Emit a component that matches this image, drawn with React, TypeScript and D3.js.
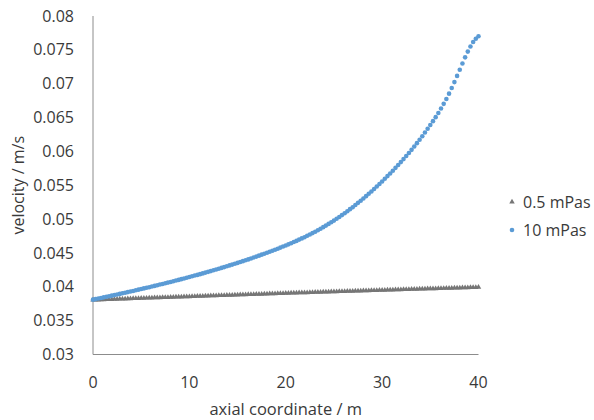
import React from "react";
import * as d3 from "d3";

// axial mesh: 145 nodes spread evenly over the 40 m pipe
const nodeCount = 145;
const axial = d3.range(nodeCount).map((i) => (i * 40) / (nodeCount - 1));

// 0.5 mPas (grey triangles)
const lowVisc = [
  0.03805, 0.03807, 0.03808, 0.03809, 0.03811, 0.03812, 0.03814, 0.03815, 0.03817, 0.03818,
  0.0382, 0.03821, 0.03822, 0.03824, 0.03825, 0.03827, 0.03828, 0.0383, 0.03831, 0.03833,
  0.03834, 0.03835, 0.03837, 0.03838, 0.0384, 0.03841, 0.03842, 0.03844, 0.03845, 0.03847,
  0.03848, 0.0385, 0.03851, 0.03852, 0.03854, 0.03855, 0.03856, 0.03858, 0.03859, 0.03861,
  0.03862, 0.03863, 0.03865, 0.03866, 0.03868, 0.03869, 0.0387, 0.03872, 0.03873, 0.03874,
  0.03876, 0.03877, 0.03878, 0.0388, 0.03881, 0.03883, 0.03884, 0.03885, 0.03887, 0.03888,
  0.03889, 0.03891, 0.03892, 0.03893, 0.03895, 0.03896, 0.03897, 0.03898, 0.039, 0.03901,
  0.03902, 0.03904, 0.03905, 0.03906, 0.03908, 0.03909, 0.0391, 0.03912, 0.03913, 0.03914,
  0.03915, 0.03917, 0.03918, 0.03919, 0.03921, 0.03922, 0.03923, 0.03924, 0.03926, 0.03927,
  0.03928, 0.03929, 0.03931, 0.03932, 0.03933, 0.03934, 0.03936, 0.03937, 0.03938, 0.03939,
  0.03941, 0.03942, 0.03943, 0.03944, 0.03946, 0.03947, 0.03948, 0.03949, 0.0395, 0.03952,
  0.03953, 0.03954, 0.03955, 0.03957, 0.03958, 0.03959, 0.0396, 0.03961, 0.03963, 0.03964,
  0.03965, 0.03966, 0.03967, 0.03969, 0.0397, 0.03971, 0.03972, 0.03973, 0.03974, 0.03976,
  0.03977, 0.03978, 0.03979, 0.0398, 0.03981, 0.03983, 0.03984, 0.03985, 0.03986, 0.03987,
  0.03988, 0.0399, 0.03991, 0.03992, 0.03993,
];

// 10 mPas (blue dots)
const highVisc = [
  0.0381, 0.03818, 0.03827, 0.03835, 0.03844, 0.03852, 0.03861, 0.03869, 0.03878, 0.03887,
  0.03895, 0.03904, 0.03913, 0.03922, 0.03931, 0.03939, 0.03948, 0.03958, 0.03967, 0.03976,
  0.03985, 0.03994, 0.04004, 0.04013, 0.04023, 0.04033, 0.04042, 0.04052, 0.04062, 0.04072,
  0.04082, 0.04092, 0.04102, 0.04113, 0.04123, 0.04134, 0.04144, 0.04155, 0.04166, 0.04176,
  0.04187, 0.04198, 0.0421, 0.04221, 0.04232, 0.04244, 0.04256, 0.04267, 0.04279, 0.04291,
  0.04303, 0.04316, 0.04328, 0.04341, 0.04353, 0.04366, 0.04379, 0.04392, 0.04405, 0.04419,
  0.04433, 0.04446, 0.0446, 0.04475, 0.04489, 0.04503, 0.04518, 0.04533, 0.04548, 0.04563,
  0.04579, 0.04595, 0.04611, 0.04627, 0.04644, 0.04661, 0.04678, 0.04697, 0.04715, 0.04733,
  0.04753, 0.04773, 0.04793, 0.04814, 0.04836, 0.04858, 0.04881, 0.04904, 0.04929, 0.04953,
  0.04978, 0.05005, 0.05032, 0.05059, 0.05087, 0.05117, 0.05147, 0.05176, 0.05208, 0.0524,
  0.05272, 0.05305, 0.05339, 0.05374, 0.05408, 0.05444, 0.05481, 0.05518, 0.05556, 0.05595,
  0.05635, 0.05674, 0.05715, 0.05757, 0.05799, 0.05842, 0.05886, 0.05932, 0.05977, 0.06023,
  0.06072, 0.06122, 0.06171, 0.06224, 0.06279, 0.06334, 0.06389, 0.06447, 0.06506, 0.06568,
  0.06633, 0.06702, 0.06775, 0.06853, 0.06936, 0.07024, 0.07115, 0.07207, 0.07299, 0.07389,
  0.07474, 0.0755, 0.07615, 0.07665, 0.077,
];

const seriesNames = ["0.5 mPas", "10 mPas"];
const xTicks = [0, 10, 20, 30, 40];
const yTicks = [0.03, 0.035, 0.04, 0.045, 0.05, 0.055, 0.06, 0.065, 0.07, 0.075, 0.08];

const width = 594;
const height = 420;
const font = "'Open Sans', 'Noto Sans', sans-serif";
const textColor = "#3a3a3a";
const axisColor = "#8c8c8c";
const grey = "#767676";
const blue = "#5b9bd5";

const x = d3.scaleLinear().domain([0, 40]).range([93, 478.5]);
const y = d3.scaleLinear().domain([0.03, 0.08]).range([354.5, 16]);

const tri = d3.symbol().type(d3.symbolTriangle).size(13);

export default function App() {
  return (
    <svg
      width={width}
      height={height}
      style={{ position: "absolute", left: 0, top: 0, background: "#fff" }}
      fontFamily={font}
    >
      {/* axes */}
      <line x1={x(0)} x2={x(0)} y1={y(0.08)} y2={y(0.03)} stroke={axisColor} strokeWidth={1} />
      <line x1={x(0)} x2={x(40)} y1={y(0.03)} y2={y(0.03)} stroke={axisColor} strokeWidth={1} />

      {yTicks.map((t) => (
        <text key={t} x={74} y={y(t)} dy="0.35em" textAnchor="end" fontSize={16} fill={textColor}>
          {String(+t.toFixed(3))}
        </text>
      ))}
      {xTicks.map((t) => (
        <text key={t} x={x(t)} y={388} textAnchor="middle" fontSize={16} fill={textColor}>
          {t}
        </text>
      ))}

      <text x={(x(0) + x(40)) / 2} y={415} textAnchor="middle" fontSize={16.5} fill={textColor}>
        axial coordinate / m
      </text>
      <text
        transform={`translate(24,${(y(0.08) + y(0.03)) / 2}) rotate(-90)`}
        textAnchor="middle"
        fontSize={16}
        fill={textColor}
      >
        velocity / m/s
      </text>

      {/* 0.5 mPas */}
      <g fill={grey}>
        {lowVisc.map((v, i) => (
          <path key={i} d={tri() as string} transform={`translate(${x(axial[i])},${y(v)})`} />
        ))}
      </g>
      {/* 10 mPas */}
      <g fill={blue}>
        {highVisc.map((v, i) => (
          <circle key={i} cx={x(axial[i])} cy={y(v)} r={2.3} />
        ))}
      </g>

      {/* legend */}
      <path d={tri() as string} transform="translate(512,202)" fill={grey} />
      <text x={523} y={202} dy="0.35em" fontSize={16} fill={textColor}>
        {seriesNames[0]}
      </text>
      <circle cx={512} cy={230} r={2.3} fill={blue} />
      <text x={523} y={230} dy="0.35em" fontSize={16} fill={textColor}>
        {seriesNames[1]}
      </text>
    </svg>
  );
}
